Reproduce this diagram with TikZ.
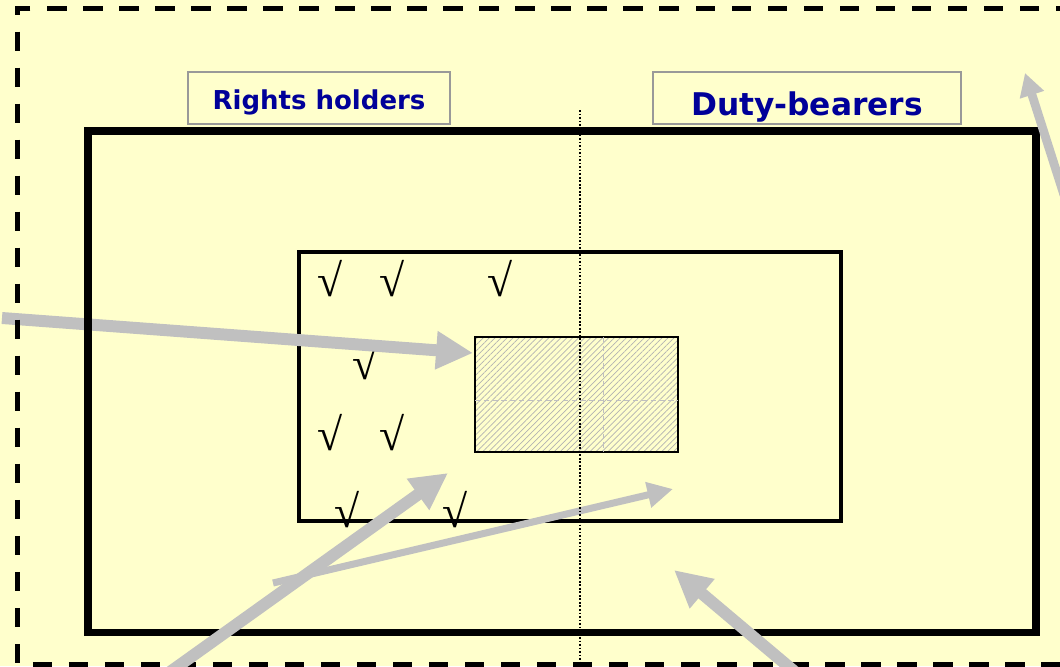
\documentclass[tikz,border=0pt]{standalone}
\usepackage{fontspec}
\usetikzlibrary{arrows.meta,patterns.meta}
\newfontfamily\tagfont{DejaVu Sans}
\newfontfamily\chkfont{Liberation Serif}
\definecolor{paper}{HTML}{FFFFCC}
\definecolor{pointer}{HTML}{C0C0C0}
\definecolor{tagblue}{HTML}{000099}
\definecolor{tagline}{HTML}{999999}

\begin{document}
\begin{tikzpicture}[x=0.02cm, y=-0.02cm,
    frame/.style={draw, inner sep=0pt, outer sep=0pt},
    tagbox/.style={draw=tagline, line width=0.9pt, fill=paper, inner sep=0pt, minimum height=1.04cm},
    tagtext/.style={text=tagblue, font=\tagfont\bfseries, anchor=base, inner sep=0pt},
    tick/.style={font=\chkfont\fontsize{26}{26}\selectfont, inner sep=0pt},
    bigarrow/.style={draw=pointer, line width=6.8pt, -{Triangle[length=21pt,width=20.5pt]}},
    slimarrow/.style={draw=pointer, line width=4pt, -{Triangle[length=14.5pt,width=14pt]}},
    divider/.style={line width=0.8pt, dash pattern=on 1pt off 1pt}]
  \useasboundingbox (0,0) rectangle (1060,666);
  \clip (0,0) rectangle (1060,666);
  \fill[paper] (0,0) rectangle (1060,666);

  % the two nested fields and the core
  \node(inner) [frame, line width=2.2pt, minimum width=10.84cm, minimum height=5.38cm] at (570,386.5) {};
  \node(core)  [frame, line width=1.1pt, minimum width=4.06cm, minimum height=2.30cm,
                pattern={Lines[angle=45, distance=2.4pt, line width=0.4pt]}, pattern color=gray!60] at (576.5,394.5) {};
  \draw[gray!50, line width=0.4pt, densely dashed] (core.west |- 0,400) -- (core.east |- 0,400);
  \draw[gray!50, line width=0.4pt, densely dashed] (core.north -| 603,0) -- (core.south -| 603,0);

  % ticks
  \foreach \x/\y [count=\i] in {330/279, 392/279, 500/279, 365/362,
                                330/433, 392/433, 347/510, 455/510}
    \node(tick\i) [tick] at (\x,\y) {√};

  \coordinate(leftin)  at (2,318);
  \coordinate(coretip) at (473,353);
  \draw[bigarrow] (leftin) -- (coretip);

  \node(outer) [frame, line width=4.2pt, minimum width=18.96cm, minimum height=10.03cm] at (562,381.75) {};
  \draw[line width=2.8pt, dash pattern=on 11pt off 9.5pt] (1075,8.5) -- (17.5,8.5) -- (17.5,664.5) -- (1075,664.5);

  % labels
  \node(rhbox) [tagbox, minimum width=5.24cm] at (319,98) {};
  \node(rh)    [tagtext, font=\tagfont\bfseries\fontsize{14.8}{16}\selectfont] at (319,109) {Rights holders};
  \node(dbbox) [tagbox, minimum width=6.16cm] at (807,98) {};
  \node(db)    [tagtext, font=\tagfont\bfseries\fontsize{17.8}{20}\selectfont] at (807,115) {Duty-bearers};

  % pointers
  \coordinate(lowleft)  at (170,672);
  \coordinate(fieldtip) at (448,473);
  \coordinate(fork)     at (273,583);
  \coordinate(dutytip)  at (673,489);
  \coordinate(lowright) at (795,672);
  \coordinate(outertip) at (674,570);
  \coordinate(rightin)  at (1064,195);
  \coordinate(cornertip) at (1025,73);
  \draw[bigarrow] (lowleft) -- (fieldtip);
  \draw[slimarrow] (fork) -- (dutytip);
  \draw[bigarrow] (lowright) -- (outertip);
  \draw[draw=pointer, line width=5pt, -{Triangle[length=13pt,width=13.6pt]}] (rightin) -- (cornertip);

  \coordinate(divtop) at (580,110);
  \coordinate(divbot) at (580,668);
  \draw[divider] (divtop) -- (divbot);
\end{tikzpicture}
\end{document}
